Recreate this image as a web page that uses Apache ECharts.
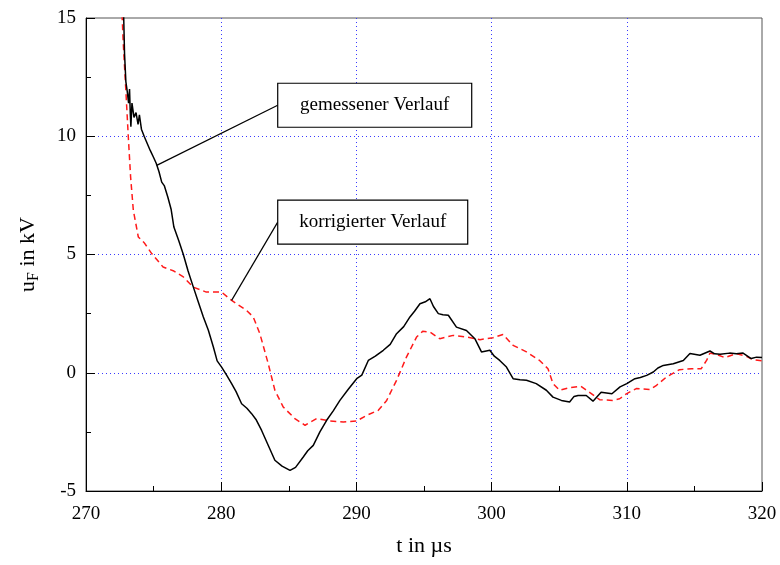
<!DOCTYPE html>
<html>
<head>
<meta charset="utf-8">
<script src="https://cdn.jsdelivr.net/npm/echarts@6/dist/echarts.min.js"></script>
<style>html,body{margin:0;padding:0;background:#fff}#c{width:780px;height:565px}</style>
</head>
<body>
<div id="c"></div>
<script>
// ---- data ----
const xTicks = [270, 280, 290, 300, 310, 320];
const yTicks = [-5, 0, 5, 10, 15];
const seriesNames = ['gemessener Verlauf', 'korrigierter Verlauf'];
const measured = [
  [272.75,16],[272.85,13.5],[272.95,12.3],[273.05,11.9],[273.15,11.4],[273.22,12.0],[273.28,10.9],[273.32,10.4],
  [273.4,11.4],[273.55,10.8],[273.7,11.0],[273.85,10.5],[273.95,10.9],[274.1,10.3],[274.3,10.0],[274.45,9.8],
  [274.6,9.6],[274.75,9.4],[275.0,9.1],[275.2,8.85],[275.4,8.5],[275.6,8.06],[275.8,7.9],[276.05,7.43],
  [276.3,6.9],[276.5,6.16],[276.85,5.6],[277.2,5.0],[277.55,4.3],[277.94,3.62],[278.3,3.0],[278.68,2.36],
  [279.05,1.8],[279.42,1.09],[279.7,0.5],[280.03,0.24],[280.4,-0.1],[280.77,-0.46],[281.1,-0.8],[281.51,-1.31],
  [281.9,-1.5],[282.25,-1.73],[282.6,-2.0],[282.99,-2.44],[283.5,-3.1],[283.97,-3.7],[284.5,-3.95],
  [285.09,-4.13],[285.5,-4.0],[286.07,-3.56],[286.4,-3.3],[286.81,-3.07],[287.3,-2.5],[287.8,-2.01],
  [288.3,-1.6],[288.78,-1.17],[289.4,-0.7],[290.02,-0.25],[290.4,-0.1],[290.88,0.52],[291.4,0.7],[291.99,0.95],
  [292.5,1.2],[292.97,1.65],[293.5,1.95],[293.96,2.36],[294.3,2.6],[294.7,2.92],[295.1,3.0],[295.44,3.13],
  [295.7,2.8],[296.06,2.5],[296.4,2.45],[296.8,2.43],[297.4,1.93],[298.14,1.79],[298.76,1.44],[299.25,0.88],
  [299.87,0.95],[300.2,0.7],[300.6,0.52],[301.1,0.24],[301.59,-0.25],[302.1,-0.3],[302.58,-0.32],
  [303.3,-0.46],[304.05,-0.74],[304.54,-1.03],[305.16,-1.17],[305.77,-1.24],[306.1,-1.0],[306.4,-0.96],[307.0,-0.96],
  [307.5,-1.2],[308.1,-0.82],[308.9,-0.89],[309.5,-0.6],[310.0,-0.46],[310.6,-0.25],[311.0,-0.2],[311.47,-0.11],
  [311.96,0.03],[312.3,0.2],[312.7,0.31],[313.44,0.38],[314.18,0.52],[314.67,0.81],[315.41,0.74],[316.15,0.92],
  [316.5,0.8],[316.9,0.78],[317.6,0.83],[318.1,0.8],[318.6,0.83],[319.2,0.6],[319.6,0.66],[320.0,0.64]
];
const corrected = [
  [272.6,16],[272.76,13.9],[272.96,11.8],[273.13,9.97],[273.3,8.27],[273.5,6.87],[273.87,5.74],[274.3,5.5],
  [274.86,5.04],[275.7,4.47],[276.5,4.3],[277.2,4.05],[277.94,3.62],[278.9,3.41],[280.03,3.41],[280.77,3.06],
  [281.87,2.64],[282.37,2.36],[282.86,1.65],[283.48,0.38],[283.97,-0.74],[284.59,-1.45],[285.45,-1.94],
  [286.2,-2.22],[287.06,-1.94],[288.05,-2.04],[289.03,-2.08],[290.02,-2.04],[290.76,-1.8],[291.62,-1.59],
  [292.24,-1.17],[292.97,-0.32],[293.7,0.66],[294.45,1.51],[294.9,1.75],[295.44,1.72],[296.17,1.44],
  [297.16,1.58],[298.14,1.51],[299.14,1.4],[300.1,1.48],[300.84,1.62],[301.59,1.16],[302.58,0.88],
  [303.55,0.52],[304.17,0.17],[304.54,-0.46],[305.03,-0.74],[305.77,-0.63],[306.6,-0.57],[307.4,-0.89],
  [307.99,-1.14],[308.98,-1.17],[309.47,-1.1],[309.97,-0.89],[310.7,-0.67],[311.7,-0.71],[312.2,-0.53],
  [312.93,-0.18],[313.9,0.13],[314.8,0.17],[315.5,0.17],[315.9,0.52],[316.15,0.83],[316.6,0.78],
  [317.25,0.64],[318.1,0.81],[318.85,0.69],[319.34,0.55],[320,0.5]
];
// annotation anchors (data coords): label box left-middle, point on curve
const measuredNote = { box: [284.18, 11.31], target: [275.23, 8.77] };
const correctedNote = { box: [284.18, 6.37], target: [280.77, 3.06] };

// ---- chart ----
const FONT = '"Liberation Serif", "DejaVu Serif", serif';
const chart = echarts.init(document.getElementById('c'), null, { renderer: 'canvas' });
const gridLine = { show: true, showMinLine: false, showMaxLine: false, lineStyle: { color: '#3a3aff', type: [1, 3], width: 1 } };
chart.setOption({
  animation: false,
  backgroundColor: '#fff',
  grid: { left: 86, right: 18, top: 18, bottom: 74, show: true, borderColor: '#555', borderWidth: 1 },
  xAxis: {
    type: 'value', min: xTicks[0], max: xTicks[xTicks.length - 1], interval: 10,
    name: 't in µs', nameLocation: 'middle', nameGap: 44,
    nameTextStyle: { fontFamily: FONT, fontSize: 22, color: '#000' },
    axisLine: { onZero: false, lineStyle: { color: '#000', width: 1 } },
    axisTick: { inside: true, length: 9, lineStyle: { color: '#000' } },
    minorTick: { show: true, splitNumber: 2, length: 5, lineStyle: { color: '#000' } },
    axisLabel: { fontFamily: FONT, fontSize: 19, color: '#000', margin: 14 },
    splitLine: gridLine
  },
  yAxis: {
    type: 'value', min: yTicks[0], max: yTicks[yTicks.length - 1], interval: 5,
    name: '{n|u}{s|F}{n| in kV}', nameLocation: 'middle', nameGap: 44,
    nameTextStyle: {
      rich: {
        n: { fontFamily: FONT, fontSize: 22, color: '#000' },
        s: { fontFamily: FONT, fontSize: 16, color: '#000', padding: [12, 0, 0, 0] }
      }
    },
    axisLine: { onZero: false, lineStyle: { color: '#000', width: 1 } },
    axisTick: { inside: true, length: 9, lineStyle: { color: '#000' } },
    minorTick: { show: true, splitNumber: 2, length: 5, lineStyle: { color: '#000' } },
    axisLabel: { fontFamily: FONT, fontSize: 19, color: '#000', margin: 10 },
    splitLine: gridLine
  },
  series: [
    {
      name: seriesNames[0], type: 'line', data: measured, showSymbol: false, clip: true, z: 3,
      lineStyle: { color: '#000', width: 1.5 }
    },
    {
      name: seriesNames[1], type: 'line', data: corrected, showSymbol: false, clip: true, z: 2,
      lineStyle: { color: '#ff1a1a', width: 1.5, type: [6, 4] }
    }
  ]
});

function noteGraphics(note, text, w) {
  const b = chart.convertToPixel({ gridIndex: 0 }, note.box);
  const t = chart.convertToPixel({ gridIndex: 0 }, note.target);
  const h = 44;
  return [
    { type: 'line', shape: { x1: b[0], y1: b[1], x2: t[0], y2: t[1] }, style: { stroke: '#000', lineWidth: 1.2 }, z: 10 },
    { type: 'rect', shape: { x: b[0], y: b[1] - h / 2, width: w, height: h }, style: { fill: '#fff', stroke: '#000', lineWidth: 1.2 }, z: 10 },
    { type: 'text', x: b[0] + w / 2, y: b[1], style: { text: text, font: '19px ' + FONT, fill: '#000', align: 'center', verticalAlign: 'middle' }, z: 11 }
  ];
}
chart.setOption({
  graphic: [].concat(noteGraphics(measuredNote, seriesNames[0], 194), noteGraphics(correctedNote, seriesNames[1], 190))
});
</script>
</body>
</html>
